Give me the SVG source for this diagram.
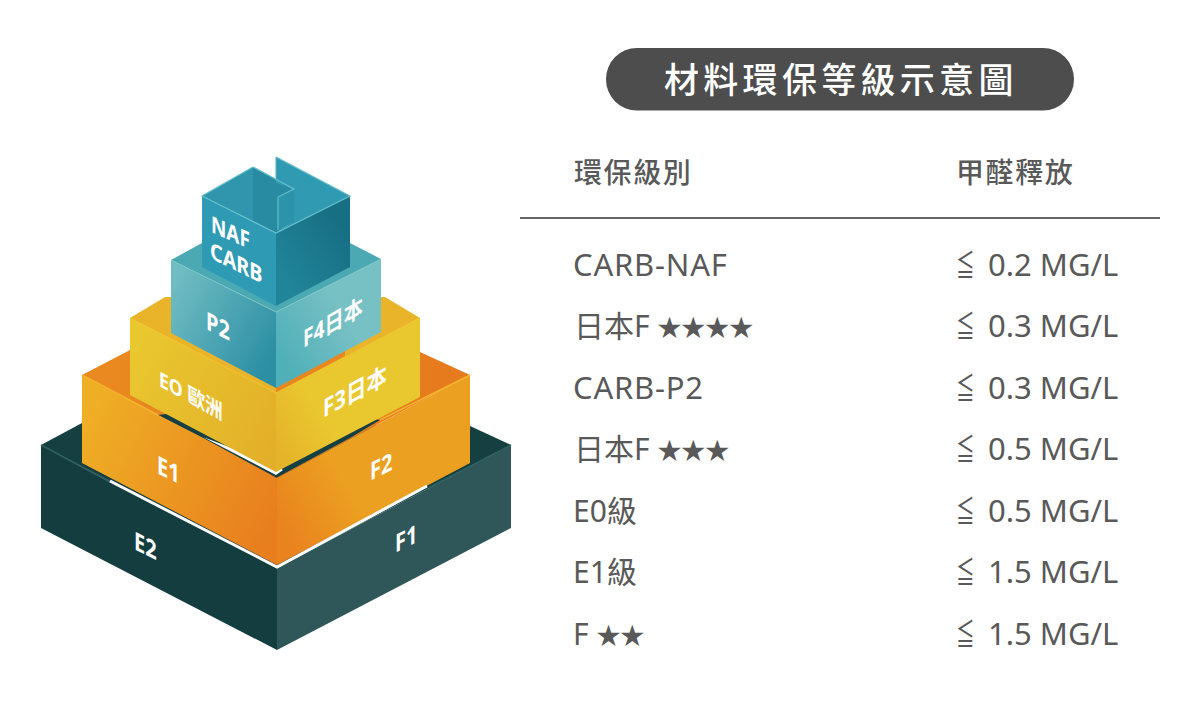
<svg xmlns="http://www.w3.org/2000/svg" width="1200" height="708" viewBox="0 0 1200 708">
<style>
text{font-family:"Noto Sans","Noto Sans CJK TC",sans-serif}
.t{font-size:30px;fill:#595959}
.v{font-size:31px;fill:#595959}
.c{font-size:31px;fill:#595959;letter-spacing:.8px}
.h{font-size:28px;fill:#595959;letter-spacing:1.600px;font-weight:500;font-family:"Noto Sans CJK TC",sans-serif}
.l{font-size:25px;fill:#fff;font-weight:700}
</style>
<defs>
<linearGradient id="gE1" x1="82" y1="420" x2="277" y2="520" gradientUnits="userSpaceOnUse"><stop offset="0" stop-color="#efaf25"/><stop offset="1" stop-color="#e87e1e"/></linearGradient>
<linearGradient id="gF2" x1="277" y1="520" x2="345" y2="480" gradientUnits="userSpaceOnUse"><stop offset="0" stop-color="#e9831e"/><stop offset="1" stop-color="#eca021"/></linearGradient>
<linearGradient id="gE0" x1="130" y1="360" x2="276" y2="440" gradientUnits="userSpaceOnUse"><stop offset="0" stop-color="#e9c72f"/><stop offset="1" stop-color="#e3af28"/></linearGradient>
<linearGradient id="gF3" x1="276" y1="440" x2="320" y2="415" gradientUnits="userSpaceOnUse"><stop offset="0" stop-color="#e5b42a"/><stop offset="1" stop-color="#e9c72f"/></linearGradient>
<linearGradient id="gP2" x1="171" y1="290" x2="276" y2="350" gradientUnits="userSpaceOnUse"><stop offset="0" stop-color="#6fbcc2"/><stop offset="1" stop-color="#2c8fa4"/></linearGradient>
<linearGradient id="gF4" x1="276" y1="350" x2="340" y2="310" gradientUnits="userSpaceOnUse"><stop offset="0" stop-color="#4fb0b8"/><stop offset="1" stop-color="#77c0c4"/></linearGradient>
<linearGradient id="gNR" x1="276" y1="270" x2="340" y2="225" gradientUnits="userSpaceOnUse"><stop offset="0" stop-color="#21859a"/><stop offset="1" stop-color="#176f84"/></linearGradient>
<linearGradient id="gO" x1="82" y1="350" x2="470" y2="350" gradientUnits="userSpaceOnUse"><stop offset="0" stop-color="#e98a20"/><stop offset="1" stop-color="#e67a1e"/></linearGradient>
</defs>

<g id="title"><rect x="606" y="48" width="468" height="62.500" rx="31" fill="#4d4d4d"/>
<text x="664" y="93" font-size="35" font-weight="500" letter-spacing="4.300" fill="#fff" style="font-family:'Noto Sans CJK TC',sans-serif">材料環保等級示意圖</text></g>

<g id="table">
<text class="h" x="574" y="183">環保級別</text>
<text class="h" x="956" y="183">甲醛釋放</text>
<line x1="520" y1="218" x2="1160" y2="218" stroke="#666" stroke-width="2"/>
<text class="c" x="573" y="276">CARB-NAF</text>
<text class="t" x="574" y="337">日本F <tspan font-size="24" dy="-1.500" style="font-size:24px">★★★★</tspan></text>
<text class="c" x="573" y="399">CARB-P2</text>
<text class="t" x="574" y="460">日本F <tspan dy="-1.500" style="font-size:24px">★★★</tspan></text>
<text class="t" x="573" y="522">E0級</text>
<text class="t" x="573" y="583">E1級</text>
<text class="t" x="573" y="645">F <tspan dy="-1.500" style="font-size:24px">★★</tspan></text>
<g id="values">
<text class="t" transform="matrix(.62 0 0 1 956 276)">≦</text><text class="v" x="988" y="276">0.2 MG/L</text>
<text class="t" transform="matrix(.62 0 0 1 956 337)">≦</text><text class="v" x="988" y="337">0.3 MG/L</text>
<text class="t" transform="matrix(.62 0 0 1 956 399)">≦</text><text class="v" x="988" y="399">0.3 MG/L</text>
<text class="t" transform="matrix(.62 0 0 1 956 460)">≦</text><text class="v" x="988" y="460">0.5 MG/L</text>
<text class="t" transform="matrix(.62 0 0 1 956 522)">≦</text><text class="v" x="988" y="522">0.5 MG/L</text>
<text class="t" transform="matrix(.62 0 0 1 956 583)">≦</text><text class="v" x="988" y="583">1.5 MG/L</text>
<text class="t" transform="matrix(.62 0 0 1 956 645)">≦</text><text class="v" x="988" y="645">1.5 MG/L</text>
</g>
</g>

<g id="tier-e2-f1">
<polygon points="41,445 82,423 470,426 511,445 277,568" fill="#153f41"/>
<polygon points="41,445 277,568 277,650 41,528" fill="#143d40"/>
<polygon points="277,568 511,445 511,528 277,650" fill="#2f5658"/>
<polyline points="41,445 110,482" fill="none" stroke="#2f5f60" stroke-width="1.500"/>
<polyline points="430,487 511,445" fill="none" stroke="#2f6062" stroke-width="1.500"/>
<text class="l" transform="matrix(.8 .4 0 1 134 549)">E2</text>
<text class="l" transform="matrix(.8 -.4 0 1 395 553)">F1</text>
</g>

<g id="tier-e1-f2">
<polygon points="82,375 130,350 420,352 470,375 277,478" fill="url(#gO)"/>
<polygon points="158,415 203,438 276,478 350,438 380,420 276,400" fill="#153f41"/>
<polygon points="203,437 276,475 283,470 276,465" fill="#fff"/>
<polygon points="82,375 158,415 203,438 277,478 277,565 82,463" fill="url(#gE1)"/>
<polygon points="277,478 470,375 470,463 277,565" fill="url(#gF2)"/>
<polyline points="110,481 277,567 427,486" fill="none" stroke="#fff" stroke-width="3"/>
<polyline points="82,375 158,415" fill="none" stroke="#f3b32a" stroke-width="1.500"/>
<polyline points="380,420 470,375" fill="none" stroke="#f3b32a" stroke-width="1.500"/>
<text class="l" transform="matrix(.8 .4 0 1 157 473)">E1</text>
<text class="l" transform="matrix(.8 -.4 0 1 370 481)">F2</text>
</g>

<g id="tier-e0-f3">
<polygon points="130,318 165,297 385,297 420,318 276,393" fill="#e9b42a"/>
<polygon points="130,318 276,393 276,472 130,395" fill="url(#gE0)"/>
<polygon points="276,393 420,318 420,397 276,472" fill="url(#gF3)"/>
<polygon points="276,386 345,350 345,356 276,393" fill="#e8861f"/>
<polyline points="130,318 276,393 420,318" fill="none" stroke="#f1c62f" stroke-width="1"/>
<text class="l" style="font-size:21px" transform="matrix(.84 .45 0 1 159 386)">EO 歐洲</text>
<text class="l" style="font-size:25px" transform="matrix(.82 -.45 0 1 323 418)">F3日本</text>
</g>

<g id="tier-p2-f4">
<polygon points="171,260 202,243 350,243 381,259 276,312" fill="#4aa9b2"/>
<polygon points="171,260 276,312 276,388 171,333" fill="url(#gP2)"/>
<polygon points="276,312 381,259 381,332 276,388" fill="url(#gF4)"/>
<polyline points="171,260 276,312 381,259" fill="none" stroke="#7cc6c8" stroke-width="1"/>
<text class="l" transform="matrix(.8 .4 0 1 206 329)">P2</text>
<text class="l" style="font-size:24px" transform="matrix(.8 -.45 0 1 303 348)">F4日本</text>
</g>

<g id="tier-naf">
<polygon points="202,196 253,167 253,221 276,233" fill="#2f96ad"/>
<polygon points="253,167 294,189 294,221 276,233 253,221" fill="#298ba1"/>
<polygon points="276,157 350,196 276,233 294,221 294,189 276,183" fill="#2f9ab1"/>
<polygon points="278,197 294,189 294,222 278,230" fill="#2b93aa"/>
<polyline points="276,157 276,178" fill="none" stroke="#52b5c3" stroke-width="1"/>
<polyline points="253,167 294,189 278,197 278,230" fill="none" stroke="#62bdca" stroke-width="1.200"/>
<polygon points="202,196 276,233 276,306 202,267" fill="#2f9ab3"/>
<polygon points="276,233 350,196 350,267 276,306" fill="url(#gNR)"/>
<polyline points="276,157 350,196 276,233 202,196 253,167" fill="none" stroke="#62bdca" stroke-width="1.200"/>
<text class="l" style="font-size:23px" transform="matrix(.82 .36 0 1 211 232)">NAF</text>
<text class="l" style="font-size:23px" transform="matrix(.86 .42 0 1 210 258)">CARB</text>
</g>
</svg>
